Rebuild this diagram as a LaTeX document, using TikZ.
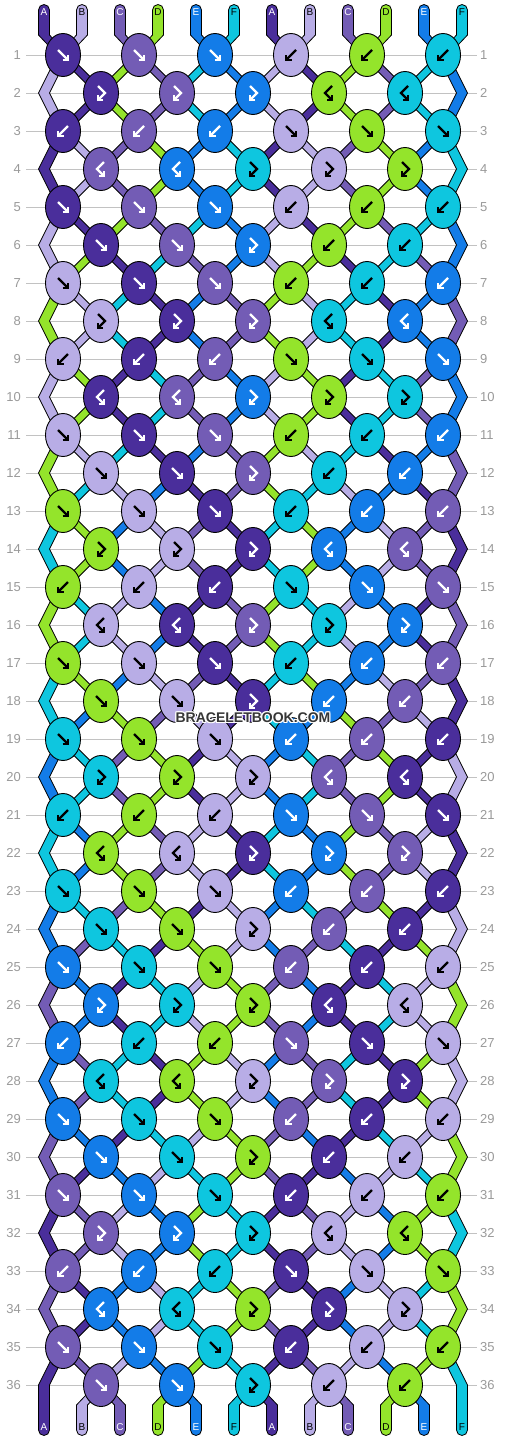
\documentclass[tikz,border=0pt]{standalone}
\usepackage{fontspec}
\setmainfont{Liberation Sans}
\definecolor{cP}{HTML}{4A2E9B}
\definecolor{cL}{HTML}{B8ADE6}
\definecolor{cM}{HTML}{735CB5}
\definecolor{cG}{HTML}{94E42B}
\definecolor{cB}{HTML}{137CE8}
\definecolor{cC}{HTML}{0EC6DF}
\definecolor{rowgray}{HTML}{C2C2C2}
\definecolor{numgray}{HTML}{9A9A9A}
\definecolor{wmark}{HTML}{363636}

% thread colours (thread number = starting position)
\expandafter\def\csname tcol1\endcsname{cP}
\expandafter\def\csname tcol2\endcsname{cL}
\expandafter\def\csname tcol3\endcsname{cM}
\expandafter\def\csname tcol4\endcsname{cG}
\expandafter\def\csname tcol5\endcsname{cB}
\expandafter\def\csname tcol6\endcsname{cC}
\expandafter\def\csname tcol7\endcsname{cP}
\expandafter\def\csname tcol8\endcsname{cL}
\expandafter\def\csname tcol9\endcsname{cM}
\expandafter\def\csname tcol10\endcsname{cG}
\expandafter\def\csname tcol11\endcsname{cB}
\expandafter\def\csname tcol12\endcsname{cC}
% icon / label colour on each knot colour
\expandafter\def\csname icolcP\endcsname{white}
\expandafter\def\csname icolcL\endcsname{black}
\expandafter\def\csname icolcM\endcsname{white}
\expandafter\def\csname icolcG\endcsname{black}
\expandafter\def\csname icolcB\endcsname{white}
\expandafter\def\csname icolcC\endcsname{black}

% knot types per row of the 6-row period: f, b, x = forward-backward, y = backward-forward
\expandafter\def\csname types1\endcsname{f,f,f,b,b,b}
\expandafter\def\csname types2\endcsname{x,x,x,y,y}
\expandafter\def\csname types3\endcsname{b,b,b,f,f,f}
\expandafter\def\csname types4\endcsname{y,y,x,x,x}
\expandafter\def\csname types5\endcsname{f,f,f,b,b,b}
\expandafter\def\csname types6\endcsname{f,f,x,b,b}

\newcount\kk
\newcount\pp
\newcount\qq
\newcount\xc

\foreach \p in {1,...,12}{\expandafter\xdef\csname at\p\endcsname{\p}}
\gdef\knotlist{}
\def\doswap{%
  \expandafter\xdef\csname at\the\pp\endcsname{\thB}%
  \expandafter\xdef\csname at\the\qq\endcsname{\thA}}
\foreach \rw in {1,...,36}{%
  \pgfmathtruncatemacro\per{mod(\rw-1,6)+1}%
  \pgfmathtruncatemacro\off{2-mod(\rw,2)}%
  \pgfmathtruncatemacro\Yc{55+38*(\rw-1)}%
  \global\kk=0
  \edef\tlist{\csname types\per\endcsname}%
  \foreach \ty in \tlist {%
    \global\advance\kk by 1
    \pp=\numexpr\off+2*\kk-2\relax
    \qq=\numexpr\pp+1\relax
    \xc=\numexpr 25+38*\pp\relax
    \edef\thA{\csname at\the\pp\endcsname}%
    \edef\thB{\csname at\the\qq\endcsname}%
    \expandafter\xdef\csname X\thA-\rw\endcsname{\the\xc}%
    \expandafter\xdef\csname X\thB-\rw\endcsname{\the\xc}%
    \edef\kth{\thB}%
    \if f\ty \edef\kth{\thA}\fi
    \if x\ty \edef\kth{\thA}\fi
    \edef\kc{\csname tcol\kth\endcsname}%
    \xdef\knotlist{\unexpanded\expandafter{\knotlist}\noexpand\knot{\the\xc}{\Yc}{\kc}{\ty}}%
    \if f\ty \doswap\fi
    \if b\ty \doswap\fi
  }%
  \ifnum\off=2
    \edef\thA{\csname at1\endcsname}%
    \expandafter\xdef\csname X\thA-\rw\endcsname{44}%
    \edef\thB{\csname at12\endcsname}%
    \expandafter\xdef\csname X\thB-\rw\endcsname{462}%
  \fi
}
\foreach \p in {1,...,12}{\edef\tmp{\csname at\p\endcsname}%
  \expandafter\xdef\csname XE\tmp\endcsname{\the\numexpr 6+38*\p\relax}}

\newcommand\buildthread[1]{%
  \xdef\xs{\the\numexpr 6+38*#1\relax}%
  \xdef\xe{\csname XE#1\endcsname}%
  \xdef\Rp{(\xs+5.5,35)}%
  \xdef\Lp{(\xs-5.5,35) -- cycle}%
  \foreach \rw in {1,...,36}{%
    \edef\xx{\csname X#1-\rw\endcsname}%
    \pgfmathtruncatemacro\Yc{55+38*(\rw-1)}%
    \xdef\Rp{\Rp -- (\xx+5.5,\Yc)}%
    \xdef\Lp{(\xx-5.5,\Yc) -- \Lp}%
  }%
  \xdef\Rp{\Rp -- (\xe+5.5,1405) -- (\xe+5.5,1430)}%
  \xdef\Lp{(\xe-5.5,1405) -- \Lp}%
}

\tikzset{
  knotshape/.style={draw=black, line width=0.9pt},
  strand/.style={draw=black, line width=0.8pt, line join=miter},
  iconline/.style={line width=2.3pt, line cap=butt, line join=miter},
  rownum/.style={text=numgray, inner sep=0pt, font=\fontsize{13}{13}\selectfont},
  endlabel/.style={inner sep=0pt, font=\fontsize{10}{10}\selectfont},
  wm/.style={inner sep=0pt, font=\fontsize{14}{14}\selectfont\bfseries}
}
\expandafter\def\csname iconf\endcsname{\draw[iconline] (-5,-5) -- (4,4); \draw[iconline] (-0.5,5) -- (5,5) -- (5,-0.5);}
\expandafter\def\csname iconb\endcsname{\draw[iconline] (5,-5) -- (-4,4); \draw[iconline] (0.5,5) -- (-5,5) -- (-5,-0.5);}
\expandafter\def\csname iconx\endcsname{\draw[iconline] (-3,-7) -- (4,0) -- (-2,6); \draw[iconline] (2,7) -- (-3,7) -- (-3,2);}
\expandafter\def\csname icony\endcsname{\draw[iconline] (3,-7) -- (-4,0) -- (2,6); \draw[iconline] (-2,7) -- (3,7) -- (3,2);}
\newcommand\knot[4]{%
  \filldraw[knotshape, fill=#3] (#1,#2) ellipse [x radius=17.5, y radius=21.5];
  \begin{scope}[shift={(#1,#2)}, draw=\csname icol#3\endcsname]
    \csname icon#4\endcsname
  \end{scope}}

\begin{document}
\begin{tikzpicture}[x=1pt,y=-1pt]
\useasboundingbox (0,0) rectangle (506,1440);
\fill[white] (0,0) rectangle (506,1440);
% row guide lines and numbers
\foreach \rw in {1,...,36}{%
  \pgfmathtruncatemacro\Yc{55+38*(\rw-1)}%
  \draw[rowgray, line width=1pt] (26,\Yc) -- (477,\Yc);
  \node[rownum, anchor=east] (nl\rw) at (21,\Yc) {\rw};
  \node[rownum, anchor=west] (nr\rw) at (480,\Yc) {\rw};
}
% threads
\foreach \thr in {1,...,12}{%
  \buildthread{\thr}%
  \edef\cmd{\noexpand\filldraw[strand, fill=\csname tcol\thr\endcsname] (\xs-5.5,10) arc[start angle=180,end angle=0,radius=5.5pt] -- \Rp\space arc[start angle=0,end angle=-180,radius=5.5pt] -- \Lp;}%
  \cmd
}
% knots
\knotlist
% thread labels
\foreach \p/\lab in {1/A,2/B,3/C,4/D,5/E,6/F,7/A,8/B,9/C,10/D,11/E,12/F}{%
  \edef\lc{\csname icol\csname tcol\p\endcsname\endcsname}%
  \node[endlabel, text=\lc] (top\p) at ({6+38*\p},12.5) {\lab};
  \node[endlabel, text=\lc] (bot\p) at ({6+38*\p},1427.5) {\lab};
}
% watermark
\foreach \dx/\dy in {-1/0,1/0,0/-1,0/1,-1/-1,1/1,-1/1,1/-1}{%
  \node[wm, text=white] at ({253+(\dx)},{718+(\dy)}) {BRACELETBOOK.COM};
}
\node[wm, text=wmark] (wmk) at (253,718) {BRACELETBOOK.COM};
\end{tikzpicture}
\end{document}
